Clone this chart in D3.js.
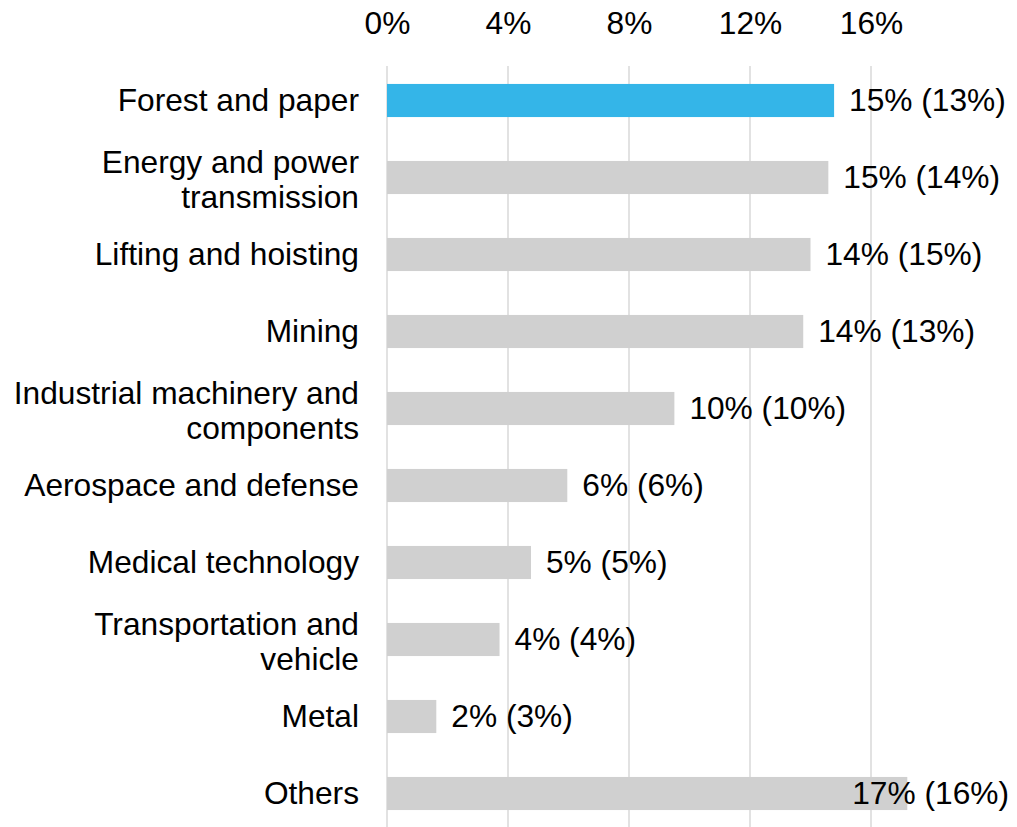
<!DOCTYPE html>
<html>
<head>
<meta charset="utf-8">
<script src="https://cdn.jsdelivr.net/npm/d3@7"></script>
<style>
  html, body { margin: 0; padding: 0; background: #fff; }
  svg { display: block; }
  text { font-family: "Liberation Sans", Arial, sans-serif; fill: #000; }
</style>
</head>
<body>
<svg id="chart" width="1017" height="827"></svg>
<script>
const categories = [
  ["Forest and paper"],
  ["Energy and power", "transmission"],
  ["Lifting and hoisting"],
  ["Mining"],
  ["Industrial machinery and", "components"],
  ["Aerospace and defense"],
  ["Medical technology"],
  ["Transportation and", "vehicle"],
  ["Metal"],
  ["Others"]
];
const values = [14.78, 14.59, 14.0, 13.76, 9.5, 5.96, 4.76, 3.72, 1.63, 17.2];
const valueLabels = ["15% (13%)", "15% (14%)", "14% (15%)", "14% (13%)", "10% (10%)", "6% (6%)", "5% (5%)", "4% (4%)", "2% (3%)", "17% (16%)"];
const highlight = [true, false, false, false, false, false, false, false, false, false];
const tickValues = [0, 4, 8, 12, 16];

const FS = 31.7;
const svg = d3.select("#chart");
const x = d3.scaleLinear().domain([0, 16]).range([387, 871]);
const y = d3.scaleBand().domain(d3.range(categories.length)).range([62, 832])
  .paddingInner(0.57).paddingOuter(0.285);

// gridlines
svg.append("g").selectAll("line").data(tickValues).join("line")
  .attr("x1", d => x(d)).attr("x2", d => x(d))
  .attr("y1", 66).attr("y2", 827)
  .attr("stroke", "#d9d9d9").attr("stroke-width", 1.5);

// top axis labels
const axis = d3.axisTop(x).tickValues(tickValues).tickFormat(d => d + "%").tickSize(0).tickPadding(0);
const gAxis = svg.append("g").attr("transform", "translate(0,34)").call(axis);
gAxis.select(".domain").remove();
gAxis.selectAll("text").attr("font-size", FS).attr("fill", "#000")
  .attr("font-family", '"Liberation Sans", Arial, sans-serif').attr("dy", 0);

// bars
svg.append("g").selectAll("rect").data(values).join("rect")
  .attr("x", x(0)).attr("y", (d, i) => y(i))
  .attr("width", d => x(d) - x(0)).attr("height", y.bandwidth())
  .attr("fill", (d, i) => highlight[i] ? "#34b5e8" : "#d0d0d0");

// category labels
const lh = 35;
svg.append("g").selectAll("text").data(categories).join("text")
  .attr("text-anchor", "end").attr("font-size", FS)
  .attr("transform", (d, i) => `translate(359,${y(i) + y.bandwidth() / 2 + 10.5 - (d.length - 1) * lh / 2 + (d.length > 1 ? 2 : 0)})`)
  .each(function(d) {
    d3.select(this).selectAll("tspan").data(d).join("tspan")
      .attr("x", 0).attr("y", (t, j) => j * lh).text(t => t);
  });

// value labels
svg.append("g").selectAll("text").data(values).join("text")
  .attr("font-size", FS)
  .attr("y", (d, i) => y(i) + y.bandwidth() / 2 + 10.5)
  .text((d, i) => valueLabels[i])
  .attr("x", function(d) {
    const w = this.getComputedTextLength();
    return Math.min(x(d) + 15, 1009 - w);
  });
</script>
</body>
</html>
